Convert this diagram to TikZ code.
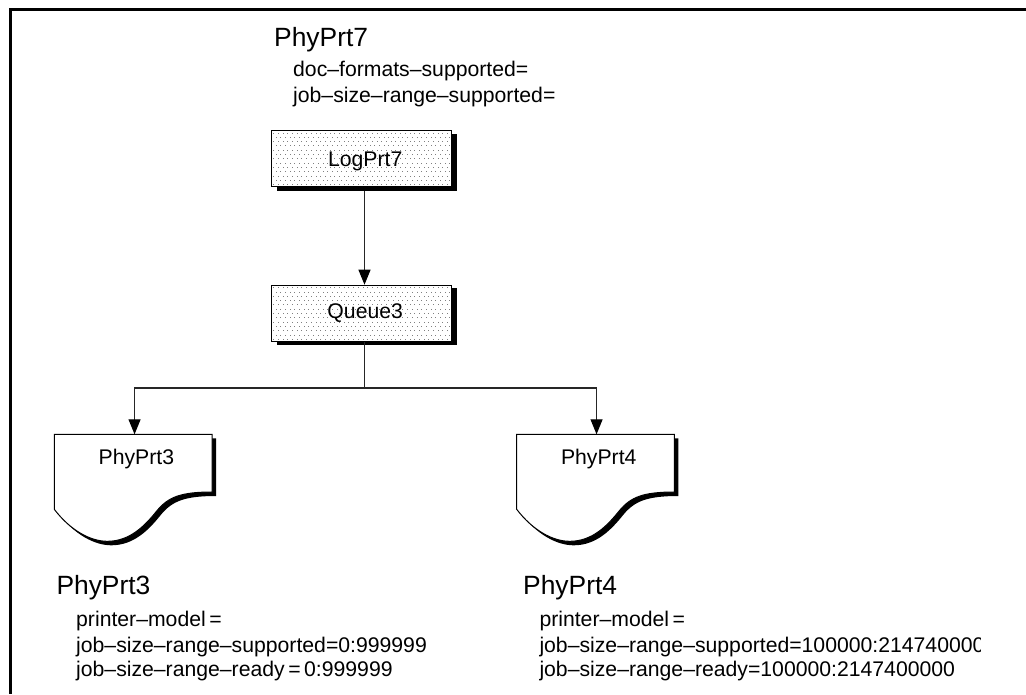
\documentclass[tikz,border=0pt]{standalone}
\usepackage{fontspec}
\setmainfont{Liberation Sans}
\usetikzlibrary{arrows.meta}
\newcommand{\headfont}{\fontsize{26.4}{30}\selectfont}
\newcommand{\bodyfont}{\fontsize{21.2}{25}\selectfont}
\tikzset{
  x=1pt,y=-1pt,
  heading/.style={anchor=base west,inner sep=0pt,font=\headfont},
  attr/.style={anchor=base west,inner sep=0pt,font=\bodyfont},
  procbox/.style={draw=black,line width=1pt,fill=white,anchor=north west,inner sep=0pt,
    minimum width=180pt,font=\bodyfont,
    path picture={
      \foreach \i in {0,...,38}{\foreach \j in {0,...,13}{
        \pgfmathsetmacro{\ox}{\i*4.7+2.0+2.35*mod(\j,2)}
        \pgfmathsetmacro{\oy}{\j*4.3+2.0}
        \fill[black!50] ([shift={(\ox,\oy)}]path picture bounding box.north west) rectangle +(1,1);
      }}
    }},
  blackshadow/.style={fill=black,draw=none},
  docbody/.style={draw=black,line width=1pt,fill=white},
  doclabel/.style={anchor=north west,inner sep=0pt,minimum width=157.7pt,font=\bodyfont,
    text height=29.7pt,text depth=28pt},
  link/.style={draw=black!85,line width=1.1pt},
  arrowlink/.style={link,-{Triangle[length=15pt,width=12pt,color=black,fill=black]}},
}
\newcommand{\docpath}{(0,0) -- (157.7,0) -- (157.7,57.7)
  .. controls (126,57.7) and (114,63) .. (103,76)
  .. controls (91,91) and (76,107) .. (53,107)
  .. controls (36,107) and (16,96) .. (0,75) -- cycle}
\begin{document}
\begin{tikzpicture}
\useasboundingbox (0,0) rectangle (1026,694);
\fill[white] (0,0) rectangle (1026,694);
% frame
\draw[line width=2.8pt,line cap=butt] (1026,9.7) -- (10.3,9.7) -- (10.3,694);

% top block
\node[heading] (h7) at (274,46) {PhyPrt7};
\node[attr] (a71) at (293,76) {doc–formats–supported=};
\node[attr] (a72) at (293,102.7) {job–size–range–supported=};

% boxes
\fill[blackshadow] (276.7,133.5) rectangle (456.7,190.5);
\node[procbox,text height=36pt,text depth=20pt] (log) at (270.7,130) {\hspace*{8pt}LogPrt7};
\fill[blackshadow] (276.7,288.2) rectangle (456.7,344.5);
\node[procbox,text height=33.6pt,text depth=22.4pt] (queue) at (270.7,284.7) {\hspace*{8pt}Queue3};

% documents
\begin{scope}[shift={(58.3,438.3)}]
  \fill[blackshadow] \docpath;
\end{scope}
\begin{scope}[shift={(54.3,434.3)}]
  \path[docbody] \docpath;
\end{scope}
\node[doclabel] (doc3) at (54.3,434.3) {\hspace*{6pt}PhyPrt3};
\begin{scope}[shift={(520.7,438.3)}]
  \fill[blackshadow] \docpath;
\end{scope}
\begin{scope}[shift={(516.7,434.3)}]
  \path[docbody] \docpath;
\end{scope}
\node[doclabel] (doc4) at (516.7,434.3) {\hspace*{6pt}PhyPrt4};

% connectors
\draw[arrowlink] ([xshift=3.3pt,yshift=-4pt]log.south) -- ([xshift=3.3pt]queue.north);
\draw[link] ([xshift=3.3pt]queue.south) -- ++(0,46.3) coordinate (fork);
\draw[arrowlink] (fork) -| ([xshift=1.2pt]doc3.north);
\draw[arrowlink] (fork) -| ([xshift=0.8pt]doc4.north);

% left block
\node[heading] (h3) at (56.3,594) {PhyPrt3};
\node[attr] (a31) at (76,626) {printer–model\,=};
\node[attr] (a32) at (76,652) {job–size–range–supported=0:999999};
\node[attr] (a33) at (76,676.7) {job–size–range–ready\,=\,0:999999};

% right block
\node[heading] (h4) at (523,594) {PhyPrt4};
\node[attr] (a41) at (539.3,626) {printer–model\,=};
\begin{scope}
  \clip (530,630) rectangle (980,660);
  \node[attr] (a42) at (539.3,652) {job–size–range–supported=100000:2147400000};
\end{scope}
\node[attr] (a43) at (539.3,676.7) {job–size–range–ready=100000:2147400000};
\end{tikzpicture}
\end{document}
